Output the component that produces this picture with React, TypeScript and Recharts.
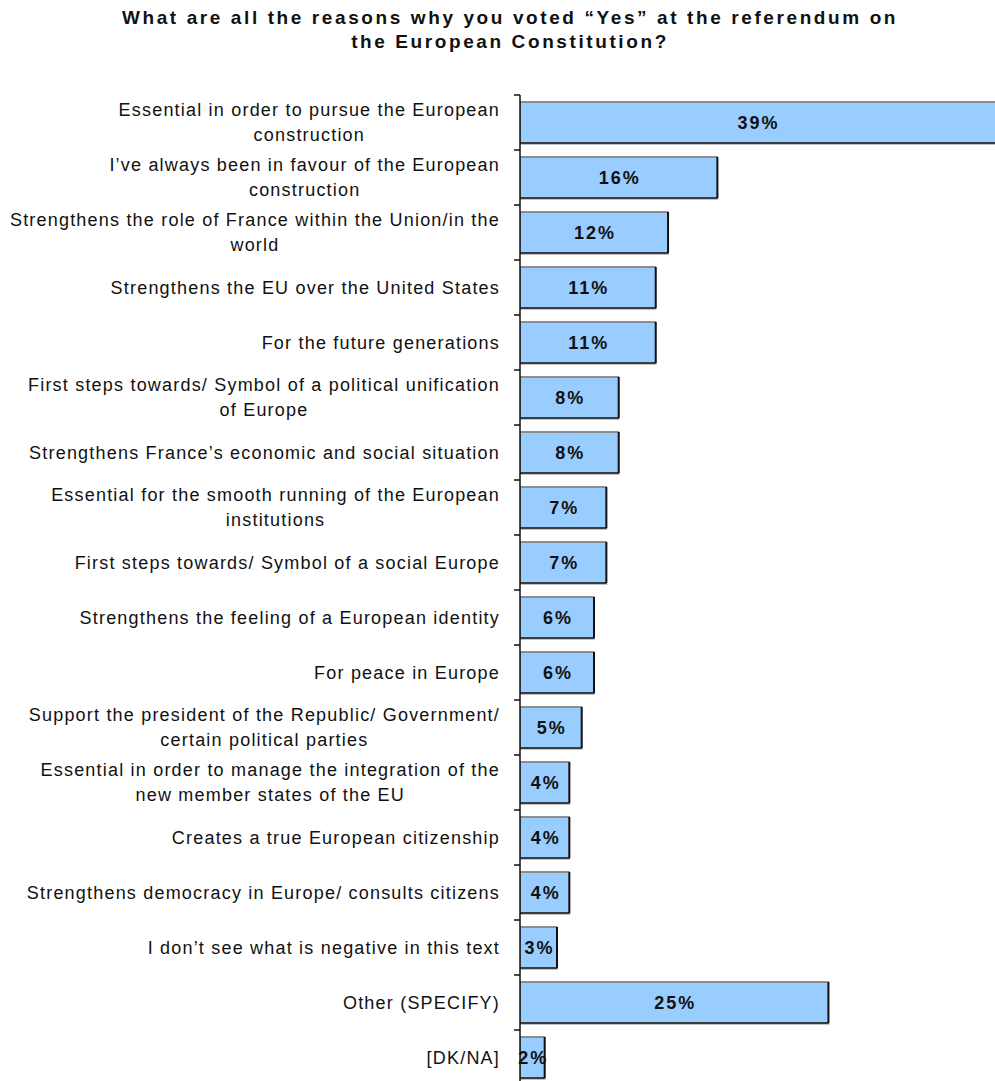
import * as React from "react";
import { Bar, BarChart, LabelList, XAxis, YAxis } from "recharts";

// Survey question: reasons for voting "Yes" (percent of respondents)
const TITLE_LINES = [
  "What are all the reasons why you voted \u201cYes\u201d at the referendum on",
  "the European Constitution?",
];

const REASONS = [
  "Essential in order to pursue the European\nconstruction",
  "I\u2019ve always been in favour of the European\nconstruction",
  "Strengthens the role of France within the Union/in the\nworld",
  "Strengthens the EU over the United States",
  "For the future generations",
  "First steps towards/ Symbol of a political unification\nof Europe",
  "Strengthens France\u2019s economic and social situation",
  "Essential for the smooth running of the European\ninstitutions",
  "First steps towards/ Symbol of a social Europe",
  "Strengthens the feeling of a European identity",
  "For peace in Europe",
  "Support the president of the Republic/ Government/\ncertain political parties",
  "Essential in order to manage the integration of the\nnew member states of the EU",
  "Creates a true European citizenship",
  "Strengthens democracy in Europe/ consults citizens",
  "I don\u2019t see what is negative in this text",
  "Other (SPECIFY)",
  "[DK/NA]",
];

const SHARES = [39, 16, 12, 11, 11, 8, 8, 7, 7, 6, 6, 5, 4, 4, 4, 3, 25, 2];

const rows = REASONS.map((reason, i) => ({ reason, share: SHARES[i] }));

const W = 995;
const H = 1100;
const AXIS_W = 520;
const FONT = "'Liberation Sans', Arial, sans-serif";
const TICK_FS = 18;
const TICK_LS = 1.2;
const BAR_FILL = "#99ccff";

let ctx: CanvasRenderingContext2D | null = null;
function textWidth(s: string, size: number, ls: number, bold = false) {
  if (!ctx) ctx = document.createElement("canvas").getContext("2d");
  if (!ctx) return s.length * size * 0.5;
  ctx.font = `${bold ? "bold " : ""}${size}px ${FONT}`;
  return ctx.measureText(s).width + ls * s.length;
}

function ReasonTick(props: any) {
  const { x, y, payload } = props;
  const half = payload?.offset ?? 27.5;
  const lines = String(payload.value).split("\n");
  const blockW = Math.max(...lines.map((l) => textWidth(l, TICK_FS, TICK_LS)));
  const cx = x - 20 - blockW / 2;
  const lh = 25;
  const y0 = y - ((lines.length - 1) * lh) / 2;
  return (
    <g>
      <line x1={x - 6} x2={x} y1={y - half} y2={y - half} stroke="#111" strokeWidth={1.5} />
      <text
        textAnchor="middle"
        fontFamily={FONT}
        fontSize={TICK_FS}
        letterSpacing={TICK_LS}
        fill="#111"
      >
        {lines.map((l, i) => (
          <tspan key={i} x={cx} y={y0 + i * lh} dy="0.36em">
            {l}
          </tspan>
        ))}
      </text>
    </g>
  );
}

function BoxBar(props: any) {
  const { x, y, width, height } = props;
  if (!width || width <= 0) return null;
  return (
    <g>
      <rect x={x} y={y + height} width={width + 1} height={2} fill="#9a9a9a" opacity={0.6} />
      <rect x={x} y={y} width={width} height={height} fill={BAR_FILL} stroke="#555" strokeWidth={1} />
      <line x1={x} x2={x + width} y1={y} y2={y} stroke="#8a8a8a" strokeWidth={1.5} />
      <line x1={x} x2={x + width} y1={y + height} y2={y + height} stroke="#222" strokeWidth={1.5} />
      <line x1={x + width} x2={x + width} y1={y} y2={y + height} stroke="#111" strokeWidth={2} />
    </g>
  );
}

function ValueLabel(props: any) {
  const { x, y, width, height, value } = props;
  const visibleW = Math.min(x + width, W) - x;
  return (
    <text
      x={x + visibleW / 2 + 1}
      y={y + height / 2}
      dy="0.36em"
      textAnchor="middle"
      fontFamily={FONT}
      fontWeight="bold"
      fontSize={18}
      letterSpacing={2}
      fill="#111"
    >
      {`${value}%`}
    </text>
  );
}

export default function App() {
  return (
    <div
      style={{
        position: "absolute",
        left: 0,
        top: 0,
        width: W,
        height: 1081,
        overflow: "hidden",
        background: "#fff",
      }}
    >
      <div
        style={{
          position: "absolute",
          left: 20,
          width: 980,
          top: 6,
          textAlign: "center",
          fontFamily: FONT,
          fontWeight: "bold",
          fontSize: 19,
          letterSpacing: 2.6,
          lineHeight: "24px",
          color: "#111",
        }}
      >
        {TITLE_LINES.map((t) => (
          <div key={t}>{t}</div>
        ))}
      </div>
      <BarChart
        width={W}
        height={H}
        data={rows}
        layout="vertical"
        margin={{ top: 95, right: 0, bottom: 15, left: 0 }}
        barCategoryGap={7}
      >
        <XAxis type="number" dataKey="share" domain={[0, 38.5]} allowDataOverflow hide />
        <YAxis
          type="category"
          dataKey="reason"
          width={AXIS_W}
          axisLine={{ stroke: "#111", strokeWidth: 1.5 }}
          tickLine={false}
          tickSize={0}
          tickMargin={0}
          interval={0}
          tick={<ReasonTick />}
        />
        <Bar dataKey="share" shape={<BoxBar />} isAnimationActive={false}>
          <LabelList dataKey="share" content={<ValueLabel />} />
        </Bar>
      </BarChart>
    </div>
  );
}
